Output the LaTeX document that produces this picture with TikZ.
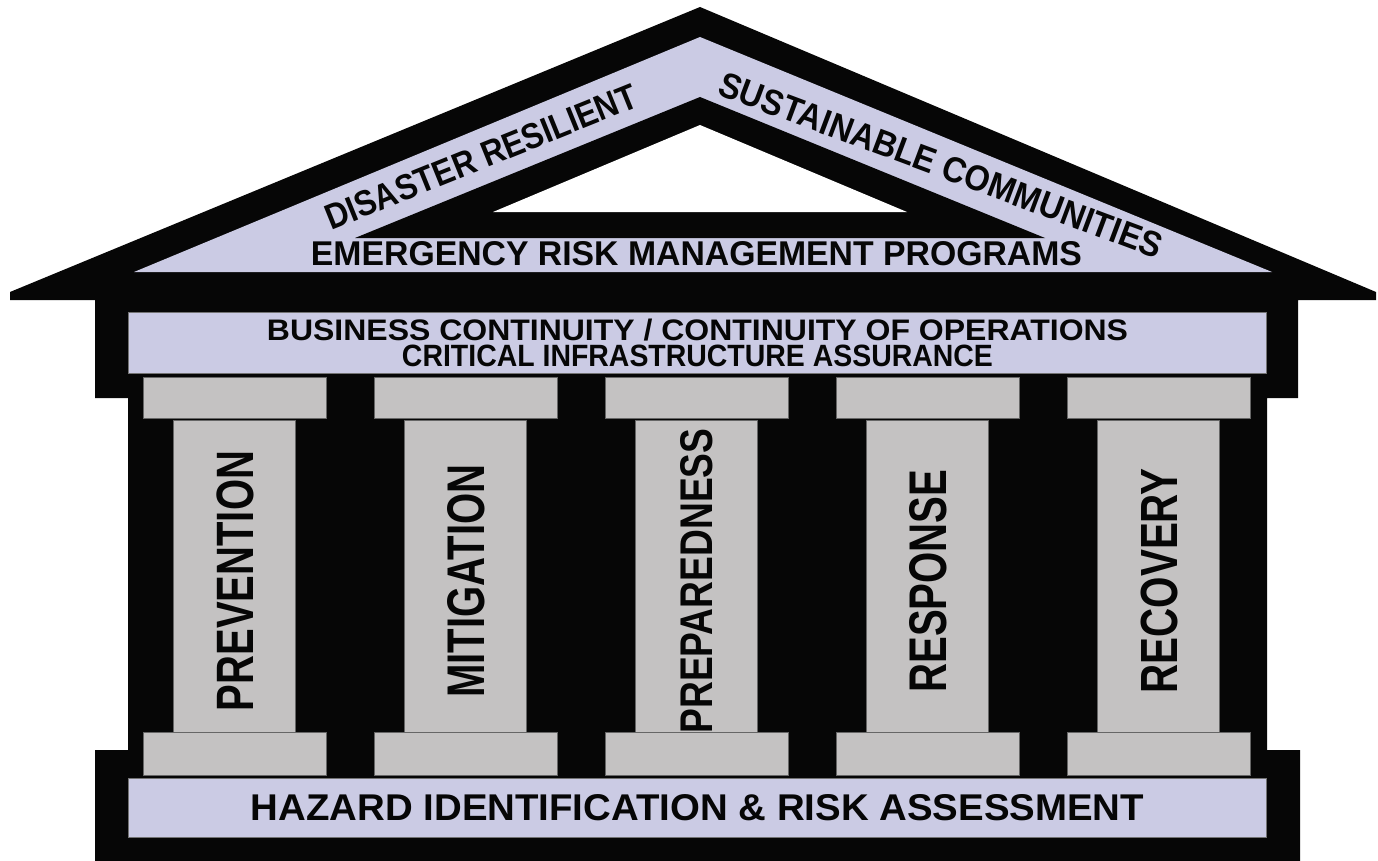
\documentclass[tikz,border=0pt]{standalone}
\usepackage{fontspec}
\setmainfont{Liberation Sans}
\usepackage{graphicx}
\definecolor{lav}{RGB}{203,203,228}
\definecolor{pillargray}{RGB}{196,194,194}
\definecolor{ink}{RGB}{6,6,6}
% text squeezed into a box of given width and cap height (in px = pt)
\newcommand{\fitText}[3]{\resizebox{#1pt}{#2pt}{\bfseries #3}}

\begin{document}
\begin{tikzpicture}[x=1pt,y=-1pt,
  band/.style={fill=lav,draw=black!55,line width=0.8pt},
  stonebox/.style={fill=pillargray,draw=black!60,line width=0.8pt},
  lbl/.style={inner sep=0pt,text=ink}]
\useasboundingbox (0,0) rectangle (1378,861);
% black outline of the house
\fill[ink] (10,292) -- (700,7) -- (1376,292) -- (1376,300) -- (1298,300)
  -- (1298,398) -- (1267,398) -- (1267,750) -- (1300,750) -- (1300,861)
  -- (95,861) -- (95,750) -- (128,750) -- (128,398) -- (95,398)
  -- (95,300) -- (10,300) -- cycle;
% roof
\fill[lav] (134,272) -- (700,37) -- (1272,272) -- cycle;
\fill[ink] (355,238) -- (700,97) -- (1045,238) -- cycle;
\fill[white] (493,212) -- (700,125) -- (907,212) -- cycle;
\node[lbl,rotate=22] (disaster) at (481,157) {\fitText{333}{25}{DISASTER RESILIENT}};
\node[lbl,rotate=-20.5] (sustain) at (941,165) {\fitText{470}{25}{SUSTAINABLE COMMUNITIES}};
\node[lbl] (erm) at (696.5,254) {\fitText{771}{24}{EMERGENCY RISK MANAGEMENT PROGRAMS}};
% beam
\draw[band] (128,312) rectangle (1266,373);
\node[lbl,align=center,font=\fontsize{21}{26}\selectfont] (bcco) at (697.5,342.5)
  {\fitText{861}{21.5}{BUSINESS CONTINUITY / CONTINUITY OF OPERATIONS}\\
   \fitText{591}{21.5}{CRITICAL INFRASTRUCTURE ASSURANCE}};
% pillars
\foreach \px/\nm/\word/\lw/\lh in {234.5/prev/PREVENTION/260/36.7,
    465.5/miti/MITIGATION/233/37, 696.5/prep/PREPAREDNESS/305/32,
    927.5/resp/RESPONSE/223/37, 1158.5/reco/RECOVERY/225/36.5}
{
  \draw[stonebox] (\px-61,420) rectangle (\px+61,733);
  \draw[stonebox] (\px-91.5,377) rectangle (\px+91.5,418);
  \draw[stonebox] (\px-91.5,732) rectangle (\px+91.5,775);
  \node[lbl,rotate=90] (\nm) at (\px+0.5,581) {\fitText{\lw}{\lh}{\word}};
}
% floor
\draw[band] (128,778) rectangle (1266,837);
\node[lbl] (hira) at (697.5,807.5) {\fitText{893}{26}{HAZARD IDENTIFICATION \& RISK ASSESSMENT}};
\end{tikzpicture}
\end{document}
